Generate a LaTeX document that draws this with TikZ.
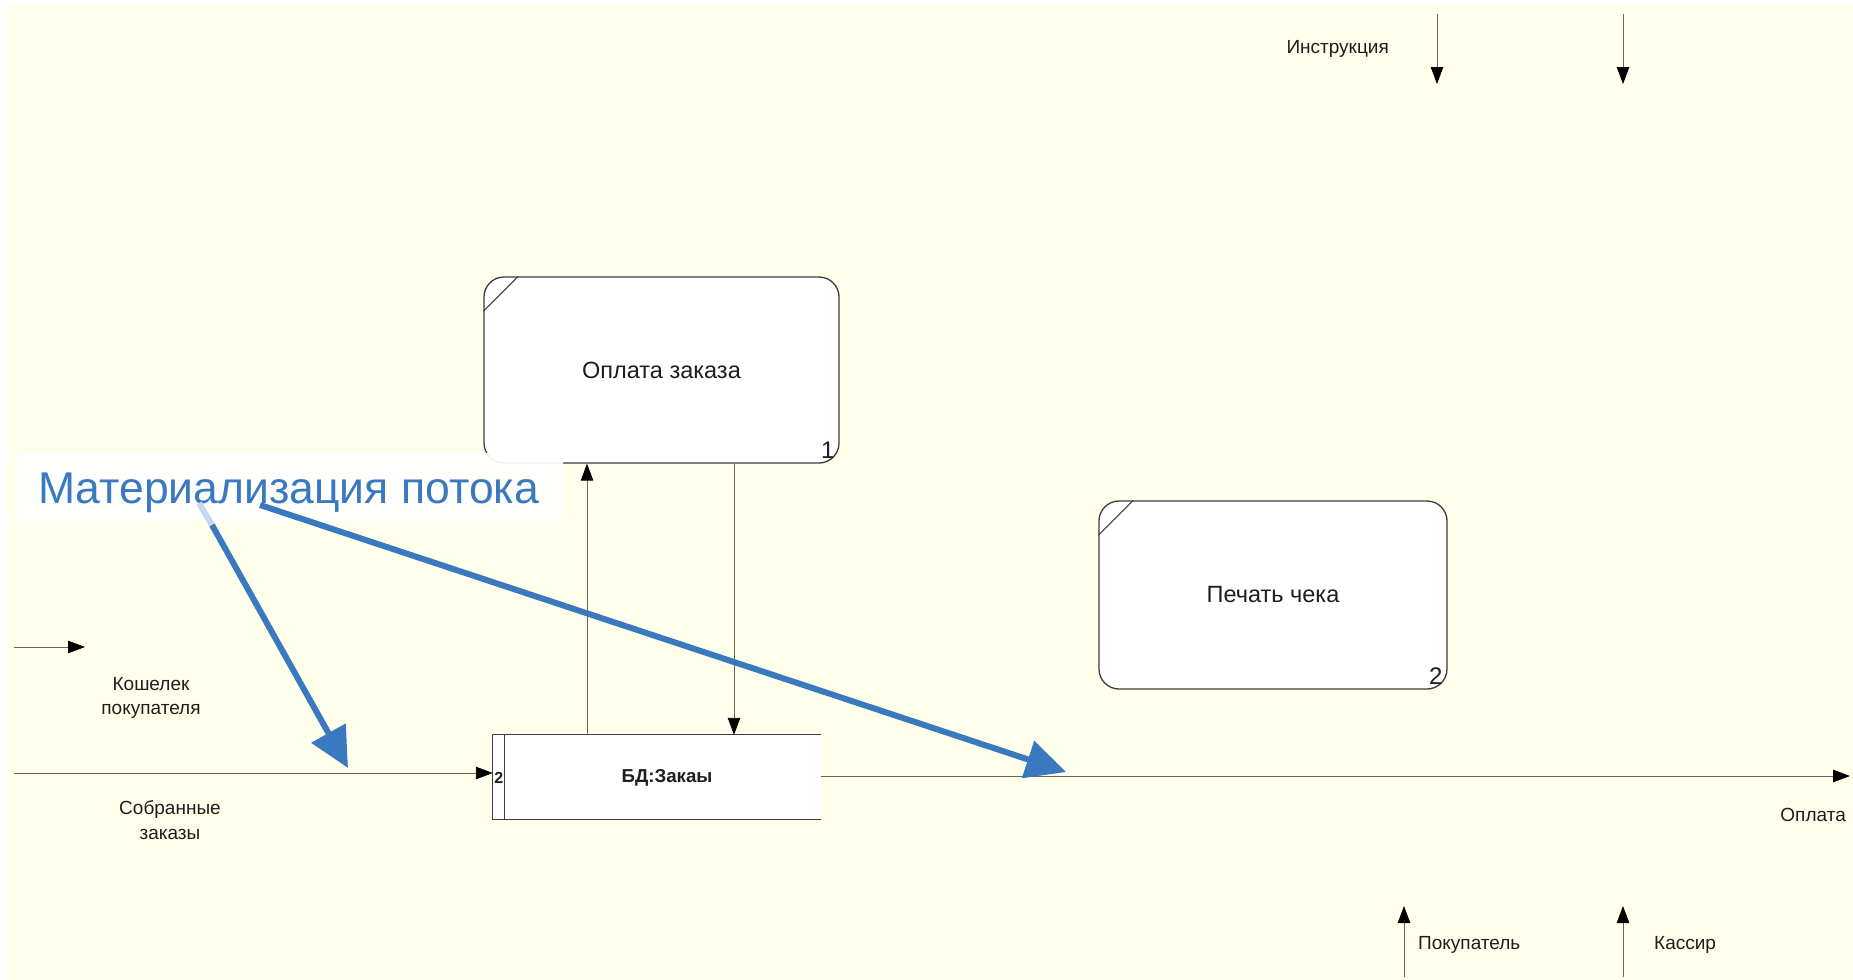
\documentclass[tikz,border=0pt]{standalone}
\usepackage{fontspec}
\setmainfont{Liberation Sans}
\usetikzlibrary{arrows.meta,calc}
\definecolor{bgyellow}{RGB}{255,255,235}
\definecolor{noteblue}{RGB}{58,120,192}
\definecolor{edgegray}{RGB}{60,60,60}
\definecolor{wiregray}{RGB}{100,100,100}
\definecolor{inkgray}{RGB}{30,30,30}
\newcommand\boxfont{\fontsize{23.5}{27}\selectfont}
\newcommand\lblfont{\fontsize{19}{24.5}\selectfont}
\begin{document}
\begin{tikzpicture}[x=1pt,y=-1pt,
  procbox/.style={draw=edgegray, line width=1.3pt, fill=white, rounded corners=20pt, inner sep=0pt, font=\boxfont, text=inkgray},
  flow/.style={draw=wiregray, line width=0.9pt, -{Triangle[length=17pt,width=12.5pt,black]}},
  flowlabel/.style={font=\lblfont, text=inkgray, align=center, inner sep=0pt},
  hl/.style={draw=noteblue, line width=6pt, -{Triangle[length=40pt,width=38pt]}},
  corner/.style={draw=edgegray, line width=1.1pt},
  boxnum/.style={font=\fontsize{24}{26}\selectfont, text=inkgray, anchor=south east, inner sep=0pt}]

% page and canvas
\useasboundingbox (0,0) rectangle (1853,980);
\fill[white] (0,0) rectangle (1853,980);
\fill[bgyellow] (7,5) rectangle (1853,980);

% activity boxes
\node[procbox, minimum width=355pt, minimum height=186pt] (p1) at (661.5,370) {Оплата заказа};
\draw[corner] ($(p1.north west)+(0,35)$) -- ($(p1.north west)+(35,0)$);
\node[boxnum] (n1) at ($(p1.south east)+(-5,-5)$) {1};

\node[procbox, minimum width=348pt, minimum height=188pt] (p2) at (1273,595) {Печать чека};
\draw[corner] ($(p2.north west)+(0,35)$) -- ($(p2.north west)+(35,0)$);
\node[boxnum] (n2) at ($(p2.south east)+(-5,-5)$) {2};

% data store
\node[fill=white, minimum width=328pt, minimum height=84pt, inner sep=0pt] (db) at (657,777) {};
\draw[edgegray, line width=1.3pt] (db.north east) -- (db.north west) -- (db.south west) -- (db.south east);
\draw[edgegray, line width=1.3pt] ($(db.north west)+(12,0)$) -- ($(db.south west)+(12,0)$);
\node[font=\bfseries\fontsize{18.7}{22}\selectfont, text=inkgray] (dbname) at ($(db.center)+(10,1)$) {БД:Закаы};
\node[font=\bfseries\fontsize{16}{18}\selectfont, text=inkgray, inner sep=0pt] (dbnum) at ($(db.west)+(6,1)$) {2};

% connector end points
\coordinate (upx) at (587,0);
\coordinate (downx) at (734,0);
\coordinate (walletstart) at (14,647);
\coordinate (walletend) at (85,647);
\coordinate (ordersstart) at (14,773);
\coordinate (payend) at (1850,776);
\coordinate (instrA) at (1437,14);
\coordinate (instrAend) at (1437,84);
\coordinate (instrB) at (1623,14);
\coordinate (instrBend) at (1623,84);
\coordinate (buyer) at (1404,977);
\coordinate (buyerend) at (1404,906);
\coordinate (cashier) at (1623,977);
\coordinate (cashierend) at (1623,906);

% flows
\draw[flow] (db.north -| upx) -- (p1.south -| upx);
\draw[flow] (p1.south -| downx) -- (db.north -| downx);
\draw[flow] (walletstart) -- (walletend);
\draw[flow] (ordersstart) -- (db.west |- ordersstart);
\draw[flow] (db.east |- payend) -- (payend);
\draw[flow] (instrA) -- (instrAend);
\draw[flow] (instrB) -- (instrBend);
\draw[flow] (buyer) -- (buyerend);
\draw[flow] (cashier) -- (cashierend);

% flow labels
\node[flowlabel] (lwallet) at (151,698) {Кошелек\\покупателя};
\node[flowlabel] (lorders) at (170,820) {Собранные\\заказы};
\node[flowlabel, anchor=east] (lpay) at (1846,815) {Оплата};
\node[flowlabel, anchor=east] (linstr) at (1389,49) {Инструкция};
\node[flowlabel, anchor=west] (lbuyer) at (1418,945) {Покупатель};
\node[flowlabel, anchor=west] (lcashier) at (1654,945) {Кассир};

% callout
\node[fill=white, opacity=0.92, rounded corners=8pt, minimum width=548pt, minimum height=69pt, inner sep=0pt] (note) at (289,487.5) {};
\node[anchor=base west, inner sep=0pt, text=noteblue, font=\fontsize{44.5}{50}\selectfont] (notetext) at (38,503) {Материализация потока};

\coordinate (a1fade) at (199,503);
\coordinate (a1start) at (212,525);
\coordinate (a1tip) at (348,768);
\coordinate (a2start) at (260,505);
\coordinate (a2tip) at (1066,772);
\draw[draw=noteblue!30, line width=6pt] (a1fade) -- (a1start);
\draw[hl] (a1start) -- (a1tip);
\draw[hl] (a2start) -- (a2tip);
\end{tikzpicture}
\end{document}
